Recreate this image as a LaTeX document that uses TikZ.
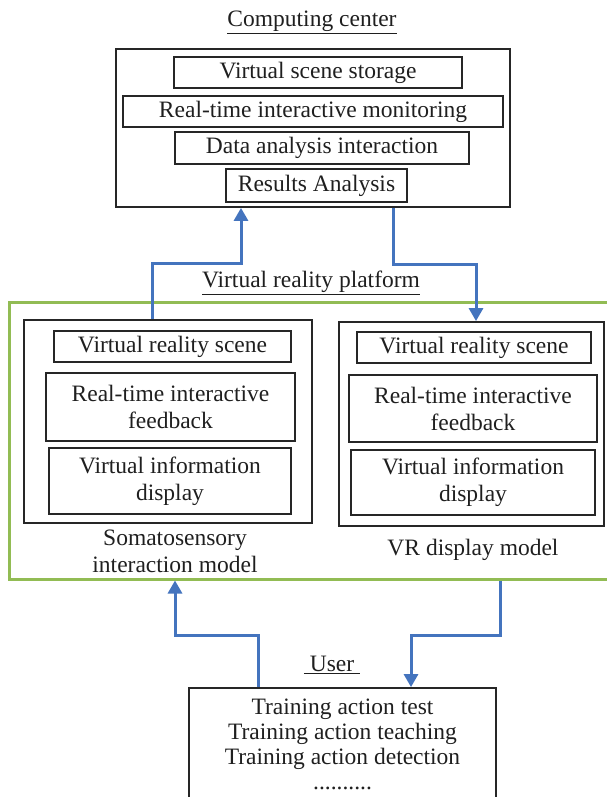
\documentclass[tikz,border=0pt]{standalone}
\usepackage{fontspec}
\setmainfont{Liberation Serif}
\usetikzlibrary{arrows.meta}

\definecolor{platgreen}{RGB}{146,188,84}
\definecolor{flowblue}{RGB}{68,116,190}

\begin{document}
\begin{tikzpicture}[x=1pt, y=-1pt,
  every node/.style={font=\fontsize{23.5}{27}\selectfont, text=black!88},
  box/.style={draw=black!85, line width=1.8pt, inner sep=0pt, align=center},
  flow/.style={draw=flowblue, line width=3pt, -{Triangle[length=13pt,width=14pt]}}]

  \clip (0,0) rectangle (607,797);

  %% Virtual reality platform (green frame runs off the right edge)
  \node[draw=platgreen, line width=3pt, inner sep=0pt,
        minimum width=611pt, minimum height=277pt] (platform) at (314.5,440.5) {};
  \node (ptitle) at (311,283) {\underline{Virtual reality platform}};

  %% Computing center
  \node (ctitle) at (312,22) {\underline{Computing center}};
  \node[box, minimum width=394pt, minimum height=158pt] (comp) at (313,128) {};
  \node[box, minimum width=288pt, minimum height=31pt] (store) at (318,72.5) {Virtual scene storage};
  \node[box, minimum width=380pt, minimum height=31pt] (monitor) at (313,111.5) {Real-time interactive monitoring};
  \node[box, minimum width=294pt, minimum height=32pt] (analysis) at (322,148) {Data analysis interaction};
  \node[box, minimum width=181pt, minimum height=33pt] (results) at (316.5,185.5) {Results Analysis};

  %% Left: somatosensory model
  \node[box, minimum width=288pt, minimum height=203pt] (lmodel) at (168,421.5) {};
  \node[box, minimum width=237pt, minimum height=31pt] (lscene) at (172.5,346.5) {Virtual reality scene};
  \node[box, minimum width=249pt, minimum height=68pt] (lfeed) at (170.5,407) {Real-time interactive\\feedback};
  \node[box, minimum width=242pt, minimum height=66pt] (linfo) at (170,481) {Virtual information\\display};
  \node[align=center] (llabel) at (175,551) {Somatosensory\\interaction model};

  %% Right: VR display model
  \node[box, minimum width=265pt, minimum height=204pt] (rmodel) at (471.5,424) {};
  \node[box, minimum width=234pt, minimum height=31pt] (rscene) at (474,347.5) {Virtual reality scene};
  \node[box, minimum width=248pt, minimum height=67pt] (rfeed) at (473,408.5) {Real-time interactive\\feedback};
  \node[box, minimum width=244pt, minimum height=65pt] (rinfo) at (473,482.5) {Virtual information\\display};
  \node (rlabel) at (473,550) {VR display model};

  %% User
  \node (utitle) at (332,665) {\underline{\ User\ }};
  \node[box, minimum width=307pt, minimum height=113pt,
        font=\fontsize{23.5}{25}\selectfont] (user) at (342.5,744.5)
    {Training action test\\Training action teaching\\Training action detection\\..........};

  %% Flows
  \draw[flow] ([xshift=-16pt]lmodel.north) -- ++(0,-56) -| ([xshift=-72pt]comp.south);
  \draw[flow] ([xshift=80pt]comp.south) -- ++(0,57) -| ([xshift=4.5pt]rmodel.north);
  \draw[flow] ([xshift=-84.5pt]user.north) -- ++(0,-52) -| ([xshift=-139.5pt]platform.south);
  \draw[flow] ([xshift=185.5pt]platform.south) -- ++(0,55) -| ([xshift=68.5pt]user.north);

\end{tikzpicture}
\end{document}
